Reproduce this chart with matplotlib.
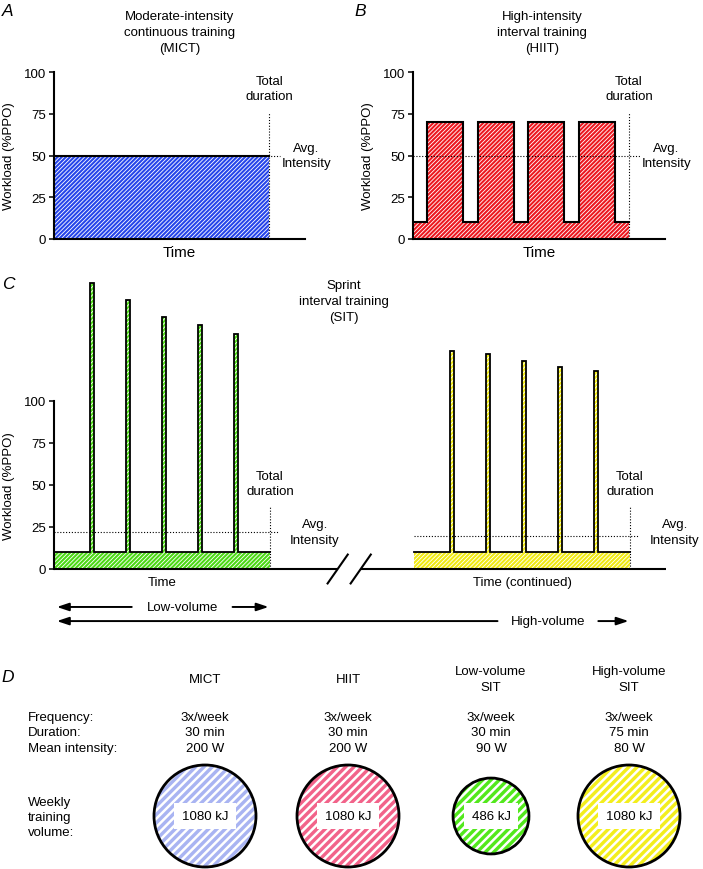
"""
Training-protocol schematic: MICT, HIIT and SIT workload profiles plus
a weekly training-volume comparison (panels A-D).
"""

import numpy as np
import matplotlib
matplotlib.use("Agg")
import matplotlib.pyplot as plt
from matplotlib.patches import Circle

plt.rcParams["font.family"] = ["Liberation Sans", "DejaVu Sans"]
plt.rcParams["font.size"] = 9.5

# ---- data ----
MICT_MIN  = [30]
MICT_LOAD = [50]

HIIT_MIN  = [2, 5, 2, 5, 2, 5, 2, 5, 2]
HIIT_LOAD = [10, 70, 10, 70, 10, 70, 10, 70, 10]

SIT_BASE      = 10
SIT_TOTAL     = 30
SPRINT_START  = [5, 10, 15, 20, 25]
SPRINT_LEN    = 0.5
SIT_LOW_PEAK  = [170, 160, 150, 145, 140]
SIT_HIGH_PEAK = [130, 128, 124, 120, 118]

YTICKS = [0, 25, 50, 75, 100]

PROTOCOLS = ["MICT", "HIIT", "Low-volume\nSIT", "High-volume\nSIT"]
FREQUENCY = ["3x/week", "3x/week", "3x/week", "3x/week"]
DURATION  = ["30 min", "30 min", "30 min", "75 min"]
INTENSITY = ["200 W", "200 W", "90 W", "80 W"]
VOLUME_KJ = [1080, 1080, 486, 1080]

# ---- styles ----
W, H = 703, 870
BLUE, RED, GREEN, YELLOW = "#2645ea", "#ec1820", "#4cd916", "#f0ea14"
CIRCLE_COLORS = ["#a9b4f2", "#f2638a", "#52e81c", "#f3ee1d"]
DOT = (0, (1, 1.6))
RIGHT_OFFSET = 50          # where "Time (continued)" starts on panel C's axis
LS_TITLE, LS_NOTE = 1.45, 1.4


def px_rect(l, t, r, b):
    return [l / W, 1 - b / H, (r - l) / W, (b - t) / H]


def steps(durations, loads):
    edges = np.concatenate([[0], np.cumsum(durations)])
    x = np.repeat(edges, 2)[1:-1]
    y = np.repeat(np.asarray(loads, float), 2)
    mean = np.dot(durations, loads) / np.sum(durations)
    return x, y, mean


def sit_profile(peaks):
    durs, loads, t = [], [], 0
    for s, p in zip(SPRINT_START, peaks):
        durs += [s - t, SPRINT_LEN]
        loads += [SIT_BASE, p]
        t = s + SPRINT_LEN
    durs.append(SIT_TOTAL - t)
    loads.append(SIT_BASE)
    return steps(durs, loads)


def hatched_fill(ax, x, y, color, hatch="////////", hlw=0.6):
    ax.fill_between(x, y, 0, facecolor=color, edgecolor="none", lw=0, zorder=1)
    with plt.rc_context({"hatch.linewidth": hlw}):
        ax.fill_between(x, y, 0, facecolor="none", edgecolor="white",
                        hatch=hatch, lw=0, zorder=1.5)


def workload_axes(rect, xmax, ymax):
    ax = fig.add_axes(rect)
    ax.spines[["top", "right"]].set_visible(False)
    for s in ("left", "bottom"):
        ax.spines[s].set_linewidth(1.5)
    ax.set_xlim(0, xmax)
    ax.set_ylim(0, ymax)
    ax.set_yticks(YTICKS)
    ax.set_xticks([])
    ax.tick_params(axis="y", length=3.4, width=1.1, pad=2.5)
    ax.set_ylabel("Workload (%PPO)")
    return ax


def profile_panel(ax, x, y, mean, color, total, lw=1.5):
    hatched_fill(ax, x, y, color)
    ax.plot(x, y, color="black", lw=lw, zorder=3, solid_joinstyle="miter")
    ax.plot([0, total + 1.5], [mean, mean], color="black", lw=0.8, ls=DOT, zorder=2)
    ax.plot([total, total], [0, 76], color="black", lw=0.8, ls=DOT, zorder=2)


def note(ax, x, y, s):
    ax.text(x, y, s, ha="center", va="center", linespacing=LS_NOTE)


fig = plt.figure(figsize=(W / 100, H / 100), dpi=100)

# ---- A: MICT ----
axA = workload_axes(px_rect(54, 73, 305, 240), 35, 100)
x, y, m = steps(MICT_MIN, MICT_LOAD)
profile_panel(axA, x, y, m, BLUE, sum(MICT_MIN))
axA.set_xlabel("Time", fontsize=11, labelpad=4.5)
axA.yaxis.set_label_coords(-0.155, 0.5)
note(axA, 30, 90, "Total\nduration")
note(axA, 35.2, 50, "Avg.\nIntensity")

# ---- B: HIIT ----
axB = workload_axes(px_rect(413, 73, 665, 240), 35, 100)
x, y, m = steps(HIIT_MIN, HIIT_LOAD)
profile_panel(axB, x, y, m, RED, sum(HIIT_MIN))
axB.set_xlabel("Time", fontsize=11, labelpad=4.5)
axB.yaxis.set_label_coords(-0.155, 0.5)
note(axB, 30, 90, "Total\nduration")
note(axB, 35.2, 50, "Avg.\nIntensity")

# ---- C: SIT (low-volume left, continued high-volume right) ----
yscale = 1.68
axC = workload_axes(px_rect(54, 570 - 175 * yscale, 666, 570), 85, 175)
axC.spines["left"].set_bounds(0, 100)
axC.spines["bottom"].set_visible(False)
axC.yaxis.set_label_coords(-0.064, 50 / 175)
for peaks, color, off in ((SIT_LOW_PEAK, GREEN, 0), (SIT_HIGH_PEAK, YELLOW, RIGHT_OFFSET)):
    x, y, m = sit_profile(peaks)
    hatched_fill(axC, x + off, y, color)
    axC.plot(x + off, y, color="black", lw=1.3, zorder=3, solid_joinstyle="miter")
    axC.plot([off, off + SIT_TOTAL + 1.3], [m, m], color="black", lw=0.8, ls=DOT, zorder=2)
    axC.plot([off + SIT_TOTAL] * 2, [0, 37], color="black", lw=0.8, ls=DOT, zorder=2)
    note(axC, off + SIT_TOTAL, 51, "Total\nduration")
    note(axC, off + SIT_TOTAL + 6.2, 22, "Avg.\nIntensity")

axC.text(SIT_TOTAL / 2, -7.5, "Time", ha="center", va="center")
axC.text(RIGHT_OFFSET + SIT_TOTAL / 2, -7.5, "Time (continued)", ha="center", va="center")

# broken time axis
brk1, brk2 = 39.4, 42.6
axC.plot([0, brk1], [0, 0], color="black", lw=1.5, clip_on=False, solid_capstyle="butt")
axC.plot([brk2, 85], [0, 0], color="black", lw=1.5, clip_on=False, solid_capstyle="butt")
for b in (brk1, brk2):
    axC.plot([b - 1.4, b + 1.4], [-8.6, 8.6], color="black", lw=1.5, clip_on=False)

# low/high volume arrows
arrow_kw = dict(arrowstyle="-|>,head_length=0.75,head_width=0.25", lw=1.4,
                color="black", shrinkA=0, shrinkB=0)
for label, span, tx, ya in (("Low-volume", (0, SIT_TOTAL), 17.8, -22.6),
                            ("High-volume", (0, RIGHT_OFFSET + SIT_TOTAL), 68.6, -31)):
    half = 7.0
    axC.annotate("", xy=(span[0] + 0.4, ya), xytext=(tx - half, ya),
                 arrowprops=arrow_kw, annotation_clip=False)
    axC.annotate("", xy=(span[1] - 0.2, ya), xytext=(tx + half, ya),
                 arrowprops=arrow_kw, annotation_clip=False)
    axC.text(tx, ya, label, ha="center", va="center")

# ---- overlay for titles, letters and panel D ----
ov = fig.add_axes([0, 0, 1, 1])
ov.set_xlim(0, W)
ov.set_ylim(H, 0)
ov.axis("off")
ov.patch.set_alpha(0)

for letter, lx, ly in (("A", 2, 12), ("B", 354, 12), ("C", 2, 285), ("D", 1, 678)):
    ov.text(lx, ly, letter, fontsize=12.5, style="italic", ha="left", va="center")

for s, tx, ty in (("Moderate-intensity\ncontinuous training\n(MICT)", 180, 33),
                  ("High-intensity\ninterval training\n(HIIT)", 542, 33),
                  ("Sprint\ninterval training\n(SIT)", 344, 302)):
    ov.text(tx, ty, s, ha="center", va="center", linespacing=LS_TITLE)

col_x = [205, 348, 491, 629]
row_y = [718, 733.5, 749]
row_names = ["Frequency:", "Duration:", "Mean intensity:"]
for name, yy in zip(row_names, row_y):
    ov.text(28, yy, name, ha="left", va="center")
ov.text(28, 818, "Weekly\ntraining\nvolume:", ha="left", va="center", linespacing=1.36)

vmax = max(VOLUME_KJ)
for cx, name, f, d, i, v, c in zip(col_x, PROTOCOLS, FREQUENCY, DURATION,
                                  INTENSITY, VOLUME_KJ, CIRCLE_COLORS):
    ov.text(cx, 680, name, ha="center", va="center", linespacing=LS_TITLE)
    for val, yy in zip((f, d, i), row_y):
        ov.text(cx, yy, val, ha="center", va="center")
    r = 51 * (v / vmax) ** 0.37
    ov.add_patch(Circle((cx, 817), r, facecolor=c, edgecolor="none", zorder=1))
    with plt.rc_context({"hatch.linewidth": 1.8}):
        ov.add_patch(Circle((cx, 817), r, facecolor="none", edgecolor="white",
                            hatch="////", lw=0, zorder=1.5))
    ov.add_patch(Circle((cx, 817), r, fill=False, edgecolor="black", lw=2, zorder=2))
    ov.text(cx, 817, f"{v} kJ", ha="center", va="center", zorder=3,
            bbox=dict(boxstyle="square,pad=0.55", fc="white", ec="none"))

fig.savefig("out.png", dpi=100)
